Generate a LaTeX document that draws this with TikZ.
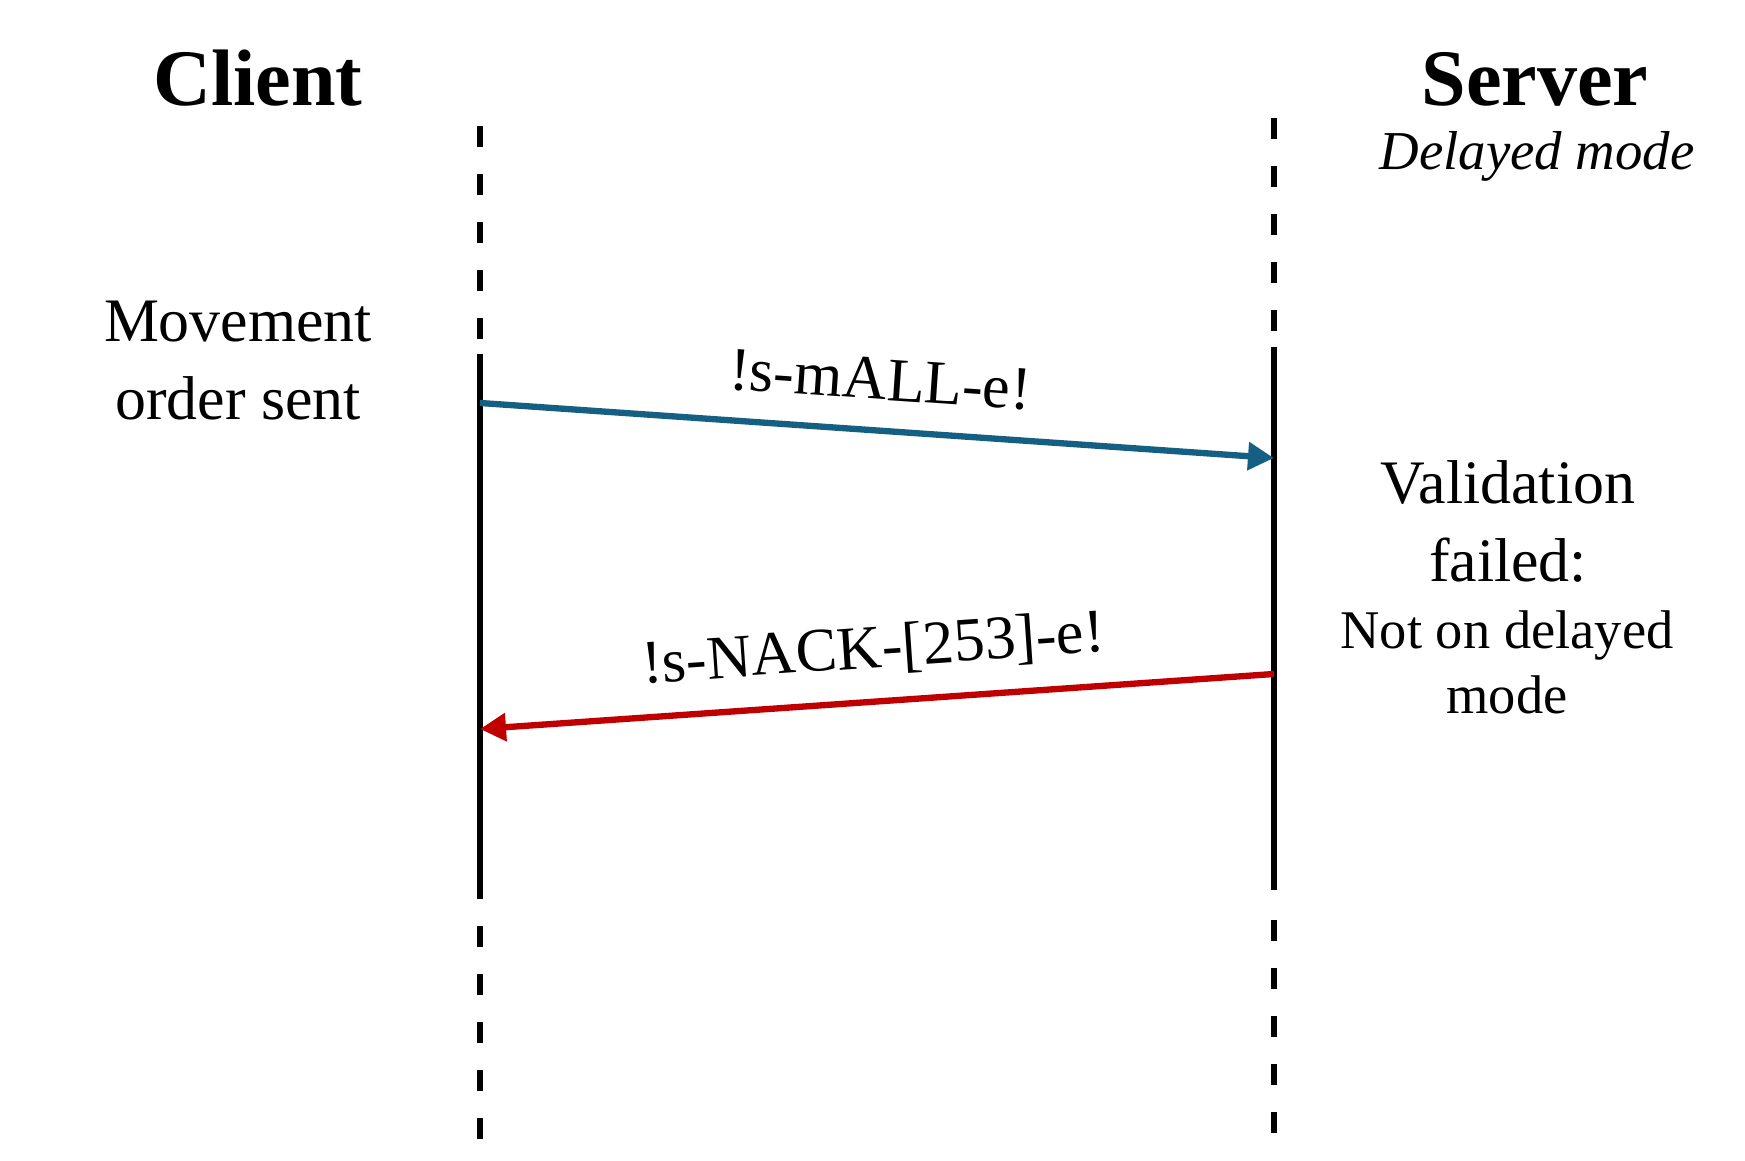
\documentclass[tikz,border=0pt]{standalone}
\usepackage{fontspec}
\setmainfont{Liberation Serif}
\usetikzlibrary{arrows.meta, positioning, calc}
\definecolor{reqblue}{HTML}{156082}
\definecolor{nackred}{HTML}{C00000}

\begin{document}
\begin{tikzpicture}[
    every node/.style={font=\fontsize{17.6}{22.2}\selectfont, inner sep=0pt},
    title/.style={font=\fontsize{22.8}{27}\selectfont\bfseries, anchor=base},
    note/.style={align=center, anchor=base},
    life/.style={line width=1.9pt, black},
    lifedash/.style={life, dash pattern=on 0.21cm off 0.27cm},
    msg/.style={line width=1.8pt},
    lbl/.style={sloped, anchor=base}
]
\useasboundingbox (0,0) rectangle (17.45,11.61);

% Headers
\node[title] (client) at (2.58,10.55) {Client};
\node[title] (server) at (15.35,10.55) {Server};
\node[anchor=base, font=\fontsize{15.6}{19}\selectfont\itshape] (mode) at (15.37,9.91) {Delayed mode};

% Lifelines
\coordinate (cTop) at (4.80,10.35);
\coordinate (cA) at (4.80,8.22);
\coordinate (cB) at (4.80,8.07);
\coordinate (cC) at (4.80,2.62);
\coordinate (cD) at (4.80,2.35);
\coordinate (cBot) at (4.80,0.22);
\coordinate (sTop) at (12.74,10.43);
\coordinate (sA) at (12.74,8.30);
\coordinate (sB) at (12.74,8.14);
\coordinate (sC) at (12.74,2.71);
\coordinate (sD) at (12.74,2.41);
\coordinate (sBot) at (12.74,0.28);

\draw[lifedash] (cTop) -- (cA);
\draw[life] (cB) -- (cC);
\draw[lifedash] (cD) -- (cBot);
\draw[lifedash] (sTop) -- (sA);
\draw[life] (sB) -- (sC);
\draw[lifedash] (sD) -- (sBot);

% Side notes
\node[note] (order) at (2.38,7.41) {Movement\\ order sent};
\node[note] (valid) at (15.08,5.79) {Validation\\ failed:};
\node[note, font=\fontsize{15.5}{18.6}\selectfont] (reason) at (15.07,4.47) {Not on delayed\\ mode};

% Messages
\coordinate (c1) at (4.80,7.58);
\coordinate (s1) at (12.74,7.03);
\coordinate (s2) at (12.74,4.87);
\coordinate (c2) at (4.80,4.32);

\draw[msg, reqblue, -{Triangle[length=7.4pt, width=7.7pt]}] (c1) --
    node[lbl, black, yshift=0.31cm] {!s-mALL-e!} (s1);
\draw[msg, nackred, {Triangle[length=7.4pt, width=7.7pt]}-] (c2) --
    node[lbl, black, yshift=0.34cm] {!s-NACK-[253]-e!} (s2);

\end{tikzpicture}
\end{document}
